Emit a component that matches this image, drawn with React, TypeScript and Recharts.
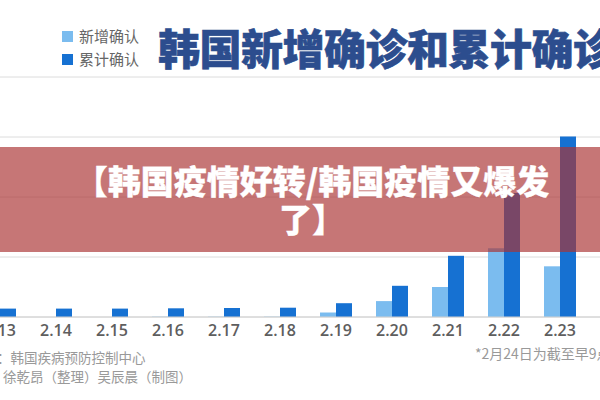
import { BarChart, Bar, XAxis, YAxis, CartesianGrid } from 'recharts';

const dates = ['2.13', '2.14', '2.15', '2.16', '2.17', '2.18', '2.19', '2.20', '2.21', '2.22', '2.23', '2.24'];
const newCases = [0, 0, 0, 1, 1, 1, 15, 53, 100, 229, 169, 161];
const totalCases = [28, 28, 28, 29, 30, 31, 46, 104, 204, 413, 602, 763];
const yTicks = [0, 200, 400, 600, 800];

const LIGHT = '#7bbcef';
const DARK = '#1671d2';
const CJK = '"Noto Sans CJK SC", "Noto Sans", sans-serif';

const data = dates.map((d, i) => ({ date: d, added: newCases[i], total: totalCases[i] }));

export default function App() {
  return (
    <div style={{ position: 'absolute', left: 0, top: 0, width: 600, height: 400, overflow: 'hidden', background: '#fff', fontFamily: CJK }}>
      <div style={{ position: 'absolute', left: -28, top: 0 }}>
        <BarChart width={672} height={400} data={data} barSize={16} barGap={0}
          margin={{ top: 77, right: 0, bottom: 53, left: 0 }}>
          <CartesianGrid vertical={false} stroke="#dcdcdc" />
          <XAxis dataKey="date" height={30} axisLine={{ stroke: '#d0d0d0' }} tickLine={false}
            tick={{ fontSize: 16, fill: '#5e5e5e', fontWeight: 600, fontFamily: '"Open Sans", sans-serif' }} interval={0} />
          <YAxis hide domain={[0, 800]} ticks={yTicks} />
          <Bar dataKey="added" fill={LIGHT} isAnimationActive={false} />
          <Bar dataKey="total" fill={DARK} isAnimationActive={false} />
        </BarChart>
      </div>

      {/* legend */}
      <div style={{ position: 'absolute', left: 62, top: 31, width: 11, height: 11, background: LIGHT }} />
      <div style={{ position: 'absolute', left: 62, top: 54, width: 11, height: 11, background: DARK }} />
      <div style={{ position: 'absolute', left: 79, top: 26, fontSize: 15, lineHeight: '20px', color: '#666' }}>新增确认</div>
      <div style={{ position: 'absolute', left: 79, top: 49, fontSize: 15, lineHeight: '20px', color: '#666' }}>累计确认</div>

      {/* title */}
      <div style={{ position: 'absolute', left: 158, top: 25, fontSize: 42, lineHeight: '44px', fontWeight: 900, color: '#2c4d8e', letterSpacing: -0.5, whiteSpace: 'nowrap', WebkitTextStroke: '0.6px #2c4d8e' }}>
        韩国新增确诊和累计确诊
      </div>

      {/* banner */}
      <div style={{ position: 'absolute', left: 0, top: 147, width: 600, height: 105, background: 'rgba(170,50,50,0.67)' }} />
      <div style={{ position: 'absolute', left: 0, top: 161, width: 624, textAlign: 'center', fontSize: 33, lineHeight: '38px', fontWeight: 900, color: '#fff', WebkitTextStroke: '0.3px #fff' }}>
        【韩国疫情好转/韩国疫情又爆发<br />了】
      </div>

      {/* footer */}
      <div style={{ position: 'absolute', left: -57, top: 348, fontSize: 13.5, lineHeight: '18px', color: '#999', whiteSpace: 'nowrap' }}>数据来源：韩国疾病预防控制中心</div>
      <div style={{ position: 'absolute', left: 3, top: 367, fontSize: 13.5, lineHeight: '18px', color: '#999', whiteSpace: 'nowrap' }}>徐乾昂（整理）吴辰晨（制图）</div>
      <div style={{ position: 'absolute', left: 475, top: 344, fontSize: 14, lineHeight: '18px', color: '#999', whiteSpace: 'nowrap' }}>*2月24日为截至早9点数据</div>
    </div>
  );
}
